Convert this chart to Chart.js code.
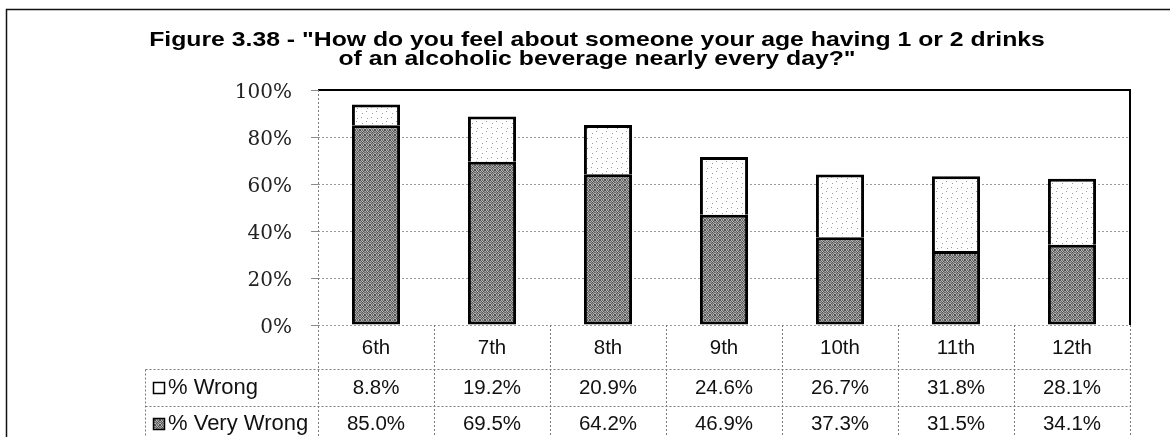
<!DOCTYPE html>
<html>
<head>
<meta charset="utf-8">
<script src="https://cdn.jsdelivr.net/npm/chart.js@4.4.1/dist/chart.umd.min.js"></script>
<style>
  html, body { margin: 0; padding: 0; background: #fff; }
  #wrap { width: 1170px; height: 437px; }
</style>
</head>
<body>
<div id="wrap"><canvas id="c" width="1170" height="437"></canvas></div>
<script>
const categories = ["6th", "7th", "8th", "9th", "10th", "11th", "12th"];
const veryWrong = [85.0, 69.5, 64.2, 46.9, 37.3, 31.5, 34.1];
const wrong = [8.8, 19.2, 20.9, 24.6, 26.7, 31.8, 28.1];
const seriesNames = ["% Wrong", "% Very Wrong"];
const yTicks = [0, 20, 40, 60, 80, 100];
const titleLines = [
  'Figure 3.38 - "How do you feel about someone your age having 1 or 2 drinks',
  'of an alcoholic beverage nearly every day?"'
];

function makeGrayPattern() {
  const c = document.createElement('canvas');
  c.width = 5; c.height = 5;
  const g = c.getContext('2d');
  const m = [
    ['#4e4e4e', '#b4b4b4', '#6a6a6a', '#9a9a9a', '#585858'],
    ['#a8a8a8', '#626262', '#c0c0c0', '#545454', '#8e8e8e'],
    ['#6e6e6e', '#9c9c9c', '#505050', '#acacac', '#646464'],
    ['#b8b8b8', '#5e5e5e', '#929292', '#666666', '#b0b0b0'],
    ['#5c5c5c', '#a2a2a2', '#727272', '#bcbcbc', '#4a4a4a']
  ];
  for (let y = 0; y < 5; y++) for (let x = 0; x < 5; x++) {
    g.fillStyle = m[y][x]; g.fillRect(x, y, 1, 1);
  }
  return g.createPattern(c, 'repeat');
}
function makeDotPattern() {
  const c = document.createElement('canvas');
  c.width = 10; c.height = 10;
  const g = c.getContext('2d');
  g.fillStyle = '#ffffff'; g.fillRect(0, 0, 10, 10);
  g.fillStyle = '#9a9a9a';
  [[2, 3], [7, 8], [6, 1], [1, 7]].forEach(p => g.fillRect(p[0], p[1], 1, 1));
  return g.createPattern(c, 'repeat');
}
const grayPat = makeGrayPattern();
const dotPat = makeDotPattern();

const VALUE_FONT = '20.5px "Liberation Sans", Arial, sans-serif';
const LABEL_FONT = '22px "Liberation Sans", Arial, sans-serif';

const decorPlugin = {
  id: 'decor',
  beforeDraw(chart) {
    const ctx = chart.ctx;
    ctx.save();
    ctx.fillStyle = '#fff';
    ctx.fillRect(0, 0, chart.width, chart.height);
    // outer frame
    ctx.strokeStyle = '#111';
    ctx.lineWidth = 1.5;
    ctx.beginPath();
    ctx.moveTo(6.5, chart.height);
    ctx.lineTo(6.5, 9.5);
    ctx.lineTo(chart.width, 9.5);
    ctx.stroke();
    // title
    ctx.fillStyle = '#000';
    ctx.font = 'bold 21px "Liberation Sans", Arial, sans-serif';
    ctx.textAlign = 'center';
    ctx.textBaseline = 'alphabetic';
    const baselines = [46, 65];
    titleLines.forEach((t, i) => {
      ctx.save();
      ctx.translate(597, baselines[i]);
      ctx.scale(1.18, 1);
      ctx.fillText(t, 0, 0);
      ctx.restore();
    });
    ctx.restore();
  },
  afterDraw(chart) {
    const ctx = chart.ctx;
    const area = chart.chartArea;
    const xs = chart.scales.x;
    const n = categories.length;
    const step = (area.right - area.left) / n;
    const rowTop = area.bottom;
    const r1 = 369.5, r2 = 406.5, bottomY = chart.height + 5;
    const labelLeft = 145.5;
    ctx.save();
    // plot frame: solid top and right
    ctx.strokeStyle = '#000';
    ctx.lineWidth = 2;
    ctx.beginPath();
    ctx.moveTo(area.left, area.top);
    ctx.lineTo(area.right, area.top);
    ctx.lineTo(area.right, area.bottom);
    ctx.stroke();
    // dotted table lines
    ctx.strokeStyle = '#7a7a7a';
    ctx.lineWidth = 1;
    ctx.setLineDash([2, 2]);
    ctx.beginPath();
    ctx.moveTo(Math.round(area.left) + 0.5, area.top);
    ctx.lineTo(Math.round(area.left) + 0.5, bottomY);
    for (let i = 1; i <= n; i++) {
      const x = Math.round(area.left + step * i) + 0.5;
      ctx.moveTo(x, rowTop);
      ctx.lineTo(x, bottomY);
    }
    ctx.moveTo(labelLeft, r1);
    ctx.lineTo(labelLeft, bottomY);
    ctx.moveTo(labelLeft, r1); ctx.lineTo(area.right, r1);
    ctx.moveTo(labelLeft, r2); ctx.lineTo(area.right, r2);
    ctx.stroke();
    ctx.setLineDash([]);
    // text
    ctx.fillStyle = '#111';
    ctx.font = VALUE_FONT;
    ctx.textAlign = 'center';
    ctx.textBaseline = 'middle';
    const rowsY = [348, 388, 424];
    categories.forEach((c, i) => {
      const x = xs.getPixelForValue(i);
      ctx.fillText(c, x, rowsY[0]);
      ctx.fillText(wrong[i].toFixed(1) + '%', x, rowsY[1]);
      ctx.fillText(veryWrong[i].toFixed(1) + '%', x, rowsY[2]);
    });
    // legend keys
    const keys = [[dotPat, rowsY[1]], [grayPat, rowsY[2]]];
    keys.forEach((k, i) => {
      const y = Math.round(k[1] - 6) + 0.5;
      ctx.fillStyle = i === 0 ? '#fff' : k[0];
      ctx.fillRect(153.5, y, 11, 11);
      ctx.strokeStyle = '#000';
      ctx.lineWidth = 1.5;
      ctx.strokeRect(153.5, y, 11, 11);
    });
    ctx.fillStyle = '#111';
    ctx.textAlign = 'left';
    ctx.font = LABEL_FONT;
    ctx.fillText(seriesNames[0], 168, rowsY[1]);
    ctx.fillText(seriesNames[1], 168, rowsY[2]);
    ctx.restore();
  }
};

new Chart(document.getElementById('c'), {
  type: 'bar',
  data: {
    labels: categories,
    datasets: [
      {
        label: seriesNames[1],
        data: veryWrong,
        backgroundColor: grayPat,
        borderColor: '#000',
        borderWidth: 3,
        borderSkipped: false,
        categoryPercentage: 1.0,
        barPercentage: 0.415
      },
      {
        label: seriesNames[0],
        data: wrong,
        backgroundColor: dotPat,
        borderColor: '#000',
        borderWidth: 3,
        borderSkipped: 'start',
        categoryPercentage: 1.0,
        barPercentage: 0.415
      }
    ]
  },
  plugins: [decorPlugin],
  options: {
    responsive: false,
    devicePixelRatio: 1,
    animation: false,
    layout: { padding: { left: 0, right: 40, top: 90, bottom: 112 } },
    plugins: {
      legend: { display: false },
      title: { display: false },
      tooltip: { enabled: false }
    },
    scales: {
      x: {
        stacked: true,
        display: false
      },
      y: {
        stacked: true,
        min: 0,
        max: 100,
        afterFit(scale) { scale.width = 318; },
        afterBuildTicks(scale) { scale.ticks = yTicks.map(v => ({ value: v })); },
        ticks: {
          padding: 19,
          labelOffset: 3,
          color: '#222',
          font: { family: '"DejaVu Serif", serif', size: 20 },
          callback: v => v + '%'
        },
        grid: {
          color: '#9a9a9a',
          lineWidth: 1,
          tickLength: 7,
          tickColor: '#8a8a8a',
          drawOnChartArea: true
        },
        border: { display: false, dash: [2, 2] }
      }
    }
  }
});
</script>
</body>
</html>
